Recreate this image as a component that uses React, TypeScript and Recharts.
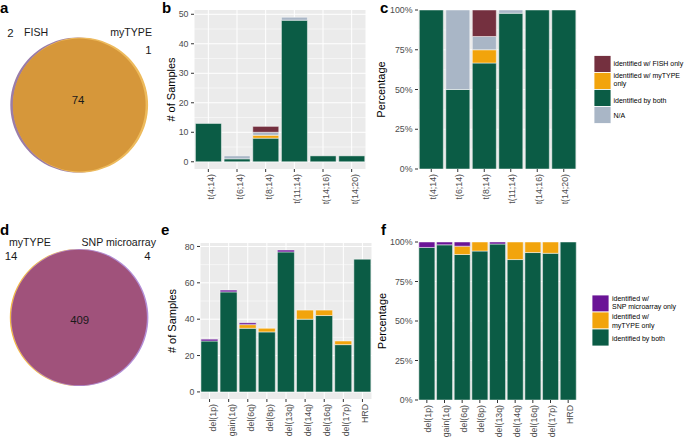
import { BarChart, Bar, XAxis, YAxis, CartesianGrid, PieChart, Pie } from "recharts";

const FONT = '"Liberation Sans", Arial, Helvetica, sans-serif';

// panel a / d venn counts
const vennTopSets = ["FISH", "myTYPE"];
const vennTopCounts = [2, 74, 1]; // only FISH, both, only myTYPE
const vennBottomSets = ["myTYPE", "SNP microarray"];
const vennBottomCounts = [14, 409, 4];

// panels b / c
const transCategories = ["t(4;14)", "t(6;14)", "t(8;14)", "t(11;14)", "t(14;16)", "t(14;20)"];
const transBoth = [13, 1, 8, 48, 2, 2];
const transMyType = [0, 0, 1, 0, 0, 0];
const transNA = [0, 1, 1, 1, 0, 0];
const transFish = [0, 0, 2, 0, 0, 0];
const countTicksTop = [0, 10, 20, 30, 40, 50];

// panels e / f
const cnaCategories = ["del(1p)", "gain(1q)", "del(6q)", "del(8p)", "del(13q)", "del(14q)", "del(16q)", "del(17p)", "HRD"];
const cnaBoth = [28, 55, 35, 33, 77, 40, 42, 26, 73];
const cnaMyType = [0, 0, 2, 2, 0, 5, 3, 2, 0];
const cnaSnp = [1, 1, 1, 0, 1, 0, 0, 0, 0];
const countTicksBottom = [0, 20, 40, 60, 80];
const pctTicks = [0, 0.25, 0.5, 0.75, 1];

const GREEN = "#0B5C45";
const ORANGE = "#F2A40C";
const MAROON = "#74303F";
const GREY = "#A9B6C6";
const PURPLE = "#6A1496";

const transData = transCategories.map((c, i) => ({
  name: c,
  both: transBoth[i],
  mytype: transMyType[i],
  na: transNA[i],
  fish: transFish[i],
}));

const cnaData = cnaCategories.map((c, i) => ({
  name: c,
  both: cnaBoth[i],
  mytype: cnaMyType[i],
  snp: cnaSnp[i],
}));

const tickStyle = { fontSize: 8.8, fill: "#4D4D4D", fontFamily: FONT };

function xTick(shift: number) {
  return (p: any) => (
    <text
      x={p.x}
      y={p.y}
      transform={`rotate(-90 ${p.x} ${p.y})`}
      textAnchor="end"
      dy={shift}
      fontSize={8.8}
      fill="#4D4D4D"
      fontFamily={FONT}
    >
      {p.payload.value}
    </text>
  );
}

function yTitle(text: string, dx: number) {
  return (p: any) => {
    const vb = p.viewBox || {};
    const x = vb.x + dx;
    const y = vb.y + vb.height / 2;
    return (
      <text
        x={x}
        y={y}
        transform={`rotate(-90 ${x} ${y})`}
        textAnchor="middle"
        dominantBaseline="central"
        fontSize={11}
        fill="#000"
        fontFamily={FONT}
      >
        {text}
      </text>
    );
  };
}

const barStroke = { stroke: "#FFFFFF", strokeWidth: 0.6, strokeOpacity: 0.8 };

export default function App() {
  return (
    <div
      style={{
        position: "absolute",
        left: 0,
        top: 0,
        width: 685,
        height: 437,
        background: "#fff",
        overflow: "hidden",
        fontFamily: FONT,
      }}
    >
      {/* a: venn */}
      <div style={{ position: "absolute", left: 0, top: 0 }}>
        <PieChart width={160} height={200} margin={{ top: 0, right: 0, bottom: 0, left: 0 }}>
          <Pie data={[{ name: vennTopSets[0], value: vennTopCounts[0] + vennTopCounts[1] }]} dataKey="value"
            cx={77.8} cy={105} outerRadius={67.5} innerRadius={0} startAngle={90} endAngle={450}
            fill="#9B7DA8" stroke="none" isAnimationActive={false} />
          <Pie data={[{ name: vennTopSets[1], value: vennTopCounts[1] + vennTopCounts[2] }]} dataKey="value"
            cx={80.6} cy={105} outerRadius={67.5} innerRadius={0} startAngle={90} endAngle={450}
            fill="#EDBA5C" stroke="none" isAnimationActive={false} />
          <Pie data={[{ name: "both", value: vennTopCounts[1] }]} dataKey="value"
            cx={79.2} cy={105} outerRadius={66.4} innerRadius={0} startAngle={90} endAngle={450}
            fill="#D6973A" stroke="none" isAnimationActive={false} />
        </PieChart>
      </div>

      {/* d: venn */}
      <div style={{ position: "absolute", left: 0, top: 220 }}>
        <PieChart width={160} height={217} margin={{ top: 0, right: 0, bottom: 0, left: 0 }}>
          <Pie data={[{ name: vennBottomSets[0], value: vennBottomCounts[0] + vennBottomCounts[1] }]} dataKey="value"
            cx={78.4} cy={97.5} outerRadius={68.6} innerRadius={0} startAngle={90} endAngle={450}
            fill="#F2B845" stroke="none" isAnimationActive={false} />
          <Pie data={[{ name: vennBottomSets[1], value: vennBottomCounts[1] + vennBottomCounts[2] }]} dataKey="value"
            cx={79.8} cy={97.5} outerRadius={68.6} innerRadius={0} startAngle={90} endAngle={450}
            fill="#B38ED6" stroke="none" isAnimationActive={false} />
          <Pie data={[{ name: "both", value: vennBottomCounts[1] }]} dataKey="value"
            cx={79.1} cy={97.5} outerRadius={67.8} innerRadius={0} startAngle={90} endAngle={450}
            fill="#A0527B" stroke="none" isAnimationActive={false} />
        </PieChart>
      </div>

      {/* b: counts, translocations */}
      <div style={{ position: "absolute", left: 160, top: 0 }}>
        <BarChart width={206} height={220} data={transData} margin={{ top: 10, right: 0, bottom: 1, left: 0 }} barCategoryGap="5%">
          <CartesianGrid fill="#EBEBEB" stroke="#FFFFFF" strokeWidth={1} horizontalValues={countTicksTop} />
          <CartesianGrid stroke="#FFFFFF" strokeWidth={0.5} vertical={false} horizontalValues={[5, 15, 25, 35, 45]} />
          <XAxis dataKey="name" height={50} axisLine={false} tickSize={3} tickMargin={2}
            tickLine={{ stroke: "#333" }} interval={0} tick={xTick(6)} />
          <YAxis type="number" width={34} domain={[-2.45, 51.45]} allowDataOverflow ticks={countTicksTop}
            axisLine={false} tickSize={3} tickMargin={2.5} tickLine={{ stroke: "#333" }} tick={tickStyle}
            label={yTitle("# of Samples", 11)} />
          <Bar dataKey="both" stackId="s" fill={GREEN} {...barStroke} isAnimationActive={false} />
          <Bar dataKey="mytype" stackId="s" fill={ORANGE} {...barStroke} isAnimationActive={false} />
          <Bar dataKey="na" stackId="s" fill={GREY} {...barStroke} isAnimationActive={false} />
          <Bar dataKey="fish" stackId="s" fill={MAROON} {...barStroke} isAnimationActive={false} />
        </BarChart>
      </div>

      {/* c: percentage, translocations */}
      <div style={{ position: "absolute", left: 360, top: 0 }}>
        <BarChart width={217} height={220} data={transData} stackOffset="expand" margin={{ top: 10, right: 0, bottom: 1, left: 0 }} barCategoryGap="5%">
          <CartesianGrid fill="#EBEBEB" stroke="#FFFFFF" strokeWidth={1} horizontalValues={pctTicks} />
          <CartesianGrid stroke="#FFFFFF" strokeWidth={0.5} vertical={false} horizontalValues={[0.125, 0.375, 0.625, 0.875]} />
          <XAxis dataKey="name" height={50} axisLine={false} tickSize={3} tickMargin={2}
            tickLine={{ stroke: "#333" }} interval={0} tick={xTick(4.5)} />
          <YAxis type="number" width={58} domain={[-0.05, 1.05]} allowDataOverflow ticks={pctTicks}
            tickFormatter={(v: number) => `${Math.round(v * 100)}%`}
            axisLine={false} tickSize={3} tickMargin={2.5} tickLine={{ stroke: "#333" }} tick={tickStyle}
            label={yTitle("Percentage", 21)} />
          <Bar dataKey="both" stackId="s" fill={GREEN} {...barStroke} isAnimationActive={false} />
          <Bar dataKey="mytype" stackId="s" fill={ORANGE} {...barStroke} isAnimationActive={false} />
          <Bar dataKey="na" stackId="s" fill={GREY} {...barStroke} isAnimationActive={false} />
          <Bar dataKey="fish" stackId="s" fill={MAROON} {...barStroke} isAnimationActive={false} />
        </BarChart>
      </div>

      {/* e: counts, CNAs */}
      <div style={{ position: "absolute", left: 160, top: 220 }}>
        <BarChart width={212} height={217} data={cnaData} margin={{ top: 23, right: 0, bottom: 1, left: 0 }} barCategoryGap="5%">
          <CartesianGrid fill="#EBEBEB" stroke="#FFFFFF" strokeWidth={1} horizontalValues={countTicksBottom} />
          <CartesianGrid stroke="#FFFFFF" strokeWidth={0.5} vertical={false} horizontalValues={[10, 30, 50, 70]} />
          <XAxis dataKey="name" height={37} axisLine={false} tickSize={3} tickMargin={2}
            tickLine={{ stroke: "#333" }} interval={0} tick={xTick(6)} />
          <YAxis type="number" width={40} domain={[-3.9, 81.9]} allowDataOverflow ticks={countTicksBottom}
            axisLine={false} tickSize={3} tickMargin={2.5} tickLine={{ stroke: "#333" }} tick={tickStyle}
            label={yTitle("# of Samples", 12)} />
          <Bar dataKey="both" stackId="s" fill={GREEN} {...barStroke} isAnimationActive={false} />
          <Bar dataKey="mytype" stackId="s" fill={ORANGE} {...barStroke} isAnimationActive={false} />
          <Bar dataKey="snp" stackId="s" fill={PURPLE} {...barStroke} isAnimationActive={false} />
        </BarChart>
      </div>

      {/* f: percentage, CNAs */}
      <div style={{ position: "absolute", left: 360, top: 220 }}>
        <BarChart width={217} height={217} data={cnaData} stackOffset="expand" margin={{ top: 22, right: 0, bottom: 1, left: 0 }} barCategoryGap="5%">
          <CartesianGrid fill="#EBEBEB" stroke="#FFFFFF" strokeWidth={1} horizontalValues={pctTicks} />
          <CartesianGrid stroke="#FFFFFF" strokeWidth={0.5} vertical={false} horizontalValues={[0.125, 0.375, 0.625, 0.875]} />
          <XAxis dataKey="name" height={36} axisLine={false} tickSize={3} tickMargin={2}
            tickLine={{ stroke: "#333" }} interval={0} tick={xTick(4.5)} />
          <YAxis type="number" width={58} domain={[-0.05, 1.05]} allowDataOverflow ticks={pctTicks}
            tickFormatter={(v: number) => `${Math.round(v * 100)}%`}
            axisLine={false} tickSize={3} tickMargin={2.5} tickLine={{ stroke: "#333" }} tick={tickStyle}
            label={yTitle("Percentage", 22)} />
          <Bar dataKey="both" stackId="s" fill={GREEN} {...barStroke} isAnimationActive={false} />
          <Bar dataKey="mytype" stackId="s" fill={ORANGE} {...barStroke} isAnimationActive={false} />
          <Bar dataKey="snp" stackId="s" fill={PURPLE} {...barStroke} isAnimationActive={false} />
        </BarChart>
      </div>

      {/* panel letters, venn labels and legends */}
      <svg width={685} height={437} style={{ position: "absolute", left: 0, top: 0, pointerEvents: "none" }} fontFamily={FONT}>
        <g fontSize={15} fontWeight="bold" fill="#000">
          <text x={0} y={13}>a</text>
          <text x={162} y={13}>b</text>
          <text x={380} y={12.5}>c</text>
          <text x={0} y={234.5}>d</text>
          <text x={161} y={235}>e</text>
          <text x={381} y={235}>f</text>
        </g>

        <g fill="#1A1A1A" fontSize={10.6}>
          <text x={24} y={36}>{vennTopSets[0]}</text>
          <text x={152} y={36} textAnchor="end">{vennTopSets[1]}</text>
          <text x={9} y={245.5}>{vennBottomSets[0]}</text>
          <text x={156} y={245.5} textAnchor="end">{vennBottomSets[1]}</text>
        </g>
        <g fill="#1A1A1A" fontSize={11.4} textAnchor="middle">
          <text x={10.5} y={37.3}>{vennTopCounts[0]}</text>
          <text x={78} y={104}>{vennTopCounts[1]}</text>
          <text x={148.5} y={54.3}>{vennTopCounts[2]}</text>
          <text x={11} y={260}>{vennBottomCounts[0]}</text>
          <text x={79.7} y={324}>{vennBottomCounts[1]}</text>
          <text x={147.3} y={260}>{vennBottomCounts[2]}</text>
        </g>

        <g fontSize={7} fill="#000">
          <rect x={594} y={55.5} width={17} height={17} fill={MAROON} stroke="#fff" strokeWidth={0.8} />
          <rect x={594} y={72.5} width={17} height={17} fill={ORANGE} stroke="#fff" strokeWidth={0.8} />
          <rect x={594} y={89.5} width={17} height={17} fill={GREEN} stroke="#fff" strokeWidth={0.8} />
          <rect x={594} y={106.5} width={17} height={17} fill={GREY} stroke="#fff" strokeWidth={0.8} />
          <text x={613.5} y={66}>identified w/ FISH only</text>
          <text x={613.5} y={77.8}>identified w/ myTYPE</text>
          <text x={613.5} y={86}>only</text>
          <text x={613.5} y={102.5}>identified by both</text>
          <text x={613.5} y={118.3}>N/A</text>

          <rect x={592} y={295} width={17} height={17} fill={PURPLE} stroke="#fff" strokeWidth={0.8} />
          <rect x={592} y={312} width={17} height={17} fill={ORANGE} stroke="#fff" strokeWidth={0.8} />
          <rect x={592} y={329} width={17} height={17} fill={GREEN} stroke="#fff" strokeWidth={0.8} />
          <text x={612} y={300.5}>identified w/</text>
          <text x={612} y={309}>SNP microarray only</text>
          <text x={612} y={319}>identified w/</text>
          <text x={612} y={327.5}>myTYPE only</text>
          <text x={612} y={340.5}>identified by both</text>
        </g>
      </svg>
    </div>
  );
}
